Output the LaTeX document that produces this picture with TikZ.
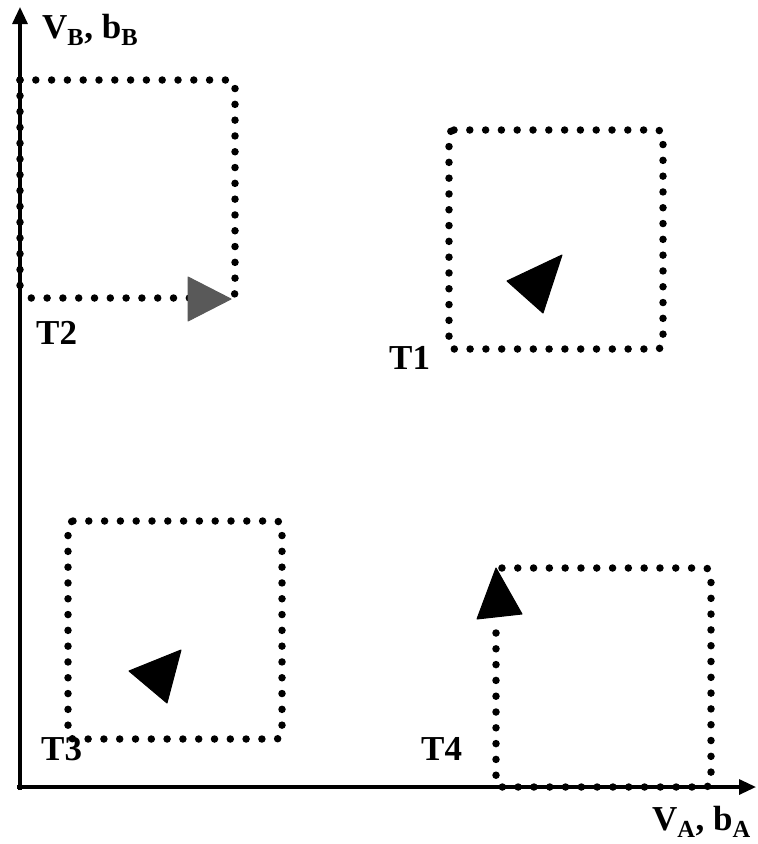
\documentclass[tikz,border=0pt]{standalone}
\usepackage{fontspec}
\setmainfont{Liberation Serif}
\usetikzlibrary{arrows.meta}
\begin{document}
\begin{tikzpicture}[x=1pt,y=-1pt,
  axis/.style={line width=3.2pt,-{Triangle[length=17pt,width=15pt]}},
  dotbox/.style={line width=7.5pt,line cap=round,dash pattern=on 0pt off 15.8pt,rounded corners=5pt},
  tri/.style={fill=black,draw=black,line width=1pt,line join=round},
  lbl/.style={font=\fontsize{35}{35}\selectfont\bfseries,inner sep=0pt,anchor=base west}]
\useasboundingbox (0,0) rectangle (758,844);
% boxes
\draw[dotbox] (20,80) -- (235,80) -- (235,298) -- (28,298);
\draw[dotbox] (20,80) -- (20,298);
\draw[dotbox] (449,130) -- (663,130) -- (663,349) -- (449,349) -- cycle;
\draw[dotbox] (68,521) -- (282,521) -- (282,739) -- (68,739) -- cycle;
\draw[dotbox] (496,633) -- (496,787) -- (711,787) -- (711,568) -- (496,568);
% axes
\coordinate (o) at (20,790);
\coordinate (ytip) at (20,7);
\coordinate (xtip) at (756,787);
\draw[axis] (o) -- (ytip);
\draw[axis] (17,787) -- (xtip);
% arrows
\fill[fill=black!65,draw=black!65,line width=1pt,line join=round] (188,277) -- (231,299) -- (188,321) -- cycle;
\filldraw[tri] (507,281) -- (562,255) -- (543,313) -- cycle;
\filldraw[tri] (129,671) -- (181,650) -- (167,703) -- cycle;
\filldraw[tri] (496,568) -- (522,614) -- (477,619) -- cycle;
% labels
\node[lbl] (vb) at (42,38) {V\textsubscript{B}, b\textsubscript{B}};
\node[lbl] (t2) at (36,344) {T2};
\node[lbl] (t1) at (389,369) {T1};
\node[lbl] (t3) at (41,760) {T3};
\node[lbl] (t4) at (421,760) {T4};
\node[lbl] (va) at (652,830) {V\textsubscript{A}, b\textsubscript{A}};
\end{tikzpicture}
\end{document}
